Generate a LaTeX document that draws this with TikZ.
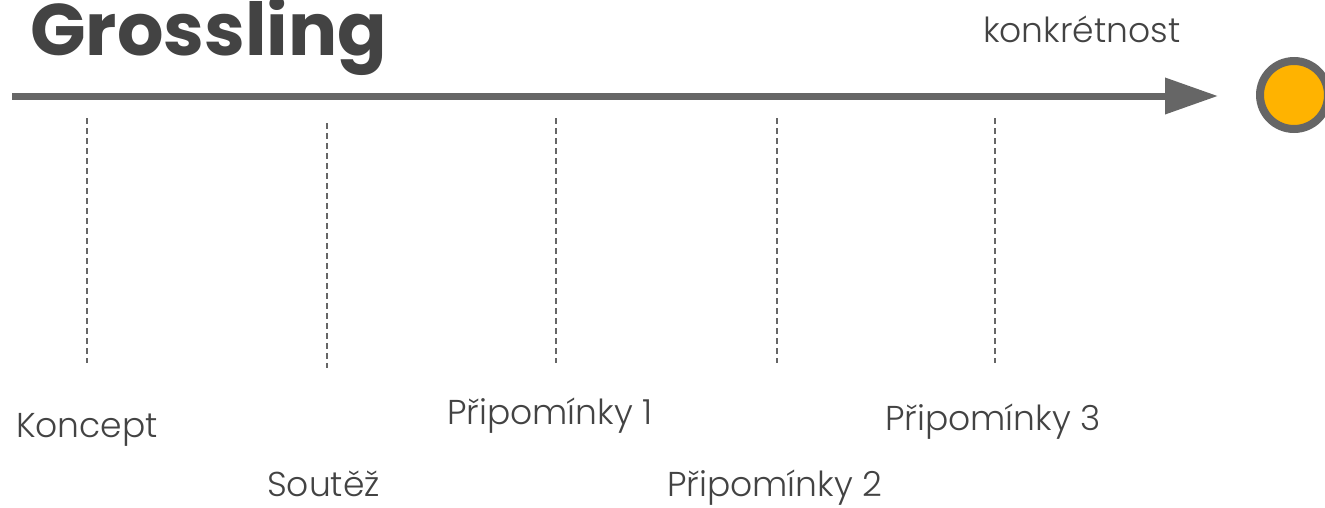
\documentclass[tikz,border=0pt]{standalone}
\usepackage{fontspec}
\setmainfont{Poppins}
\newfontfamily\lightfont{Poppins Light}
\usetikzlibrary{arrows.meta}
\definecolor{txt}{HTML}{434343}
\definecolor{axisgray}{HTML}{666666}
\definecolor{dotfill}{HTML}{FFB300}
\begin{document}
\begin{tikzpicture}[x=1pt,y=-1pt,
  lbl/.style={anchor=base west,inner sep=0pt,text=txt,font=\lightfont\fontsize{34.5}{36}\selectfont},
  dline/.style={draw=axisgray,line width=1.4pt,dash pattern=on 6pt off 4pt}]
\useasboundingbox (0,0) rectangle (1325,507);
\node[anchor=base west,inner sep=0pt,text=txt,font=\fontsize{73}{75}\selectfont\bfseries] (title) at (30,55) {Grossling};
\node[lbl] (konk) at (983,42) {konkrétnost};
\coordinate (a0) at (12,96);
\coordinate (a1) at (1218,96);
\draw[draw=axisgray,line width=7pt,-{Triangle[length=53pt,width=35pt]}] (a0) -- (a1);
\node[circle,draw=axisgray,line width=8pt,fill=dotfill,minimum size=68pt,inner sep=0pt] (dot) at (1294,95) {};
\foreach \n/\x/\ya/\yb in {d1/87/118/363,d2/327/123/368,d3/556/118/363,d4/777/118/363,d5/995/118/363}{
  \coordinate (\n t) at (\x,\ya);
  \coordinate (\n b) at (\x,\yb);
  \draw[dline] (\n t) -- (\n b);
}
\node[lbl] (koncept) at (16,437) {Koncept};
\node[lbl] (soutez) at (267,496) {Soutěž};
\node[lbl] (p1) at (447,424) {Připomínky 1};
\node[lbl] (p2) at (667,496) {Připomínky 2};
\node[lbl] (p3) at (885,430) {Připomínky 3};
\end{tikzpicture}
\end{document}
